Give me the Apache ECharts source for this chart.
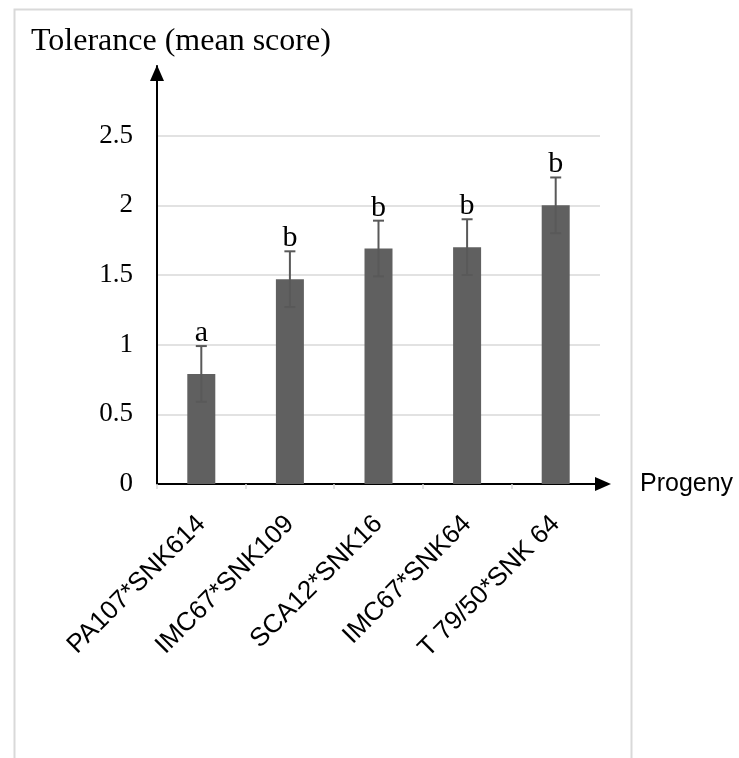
<!DOCTYPE html>
<html><head><meta charset="utf-8">
<script src="https://cdn.jsdelivr.net/npm/echarts@6/dist/echarts.min.js"></script>
<style>html,body{margin:0;padding:0;background:#fff}#c{width:739px;height:758px}</style>
</head><body><div id="c"></div>
<script>
const categories = ['PA107*SNK614', 'IMC67*SNK109', 'SCA12*SNK16', 'IMC67*SNK64', 'T 79/50*SNK 64'];
const meanScores = [0.79, 1.47, 1.69, 1.70, 2.00];
const stdErrors = [0.20, 0.20, 0.20, 0.20, 0.20];
const groupLetters = ['a', 'b', 'b', 'b', 'b'];
const yTicks = [0, 0.5, 1, 1.5, 2, 2.5, 3];

const chart = echarts.init(document.getElementById('c'), null, {renderer: 'canvas'});
const errData = categories.map((c, i) => [i, meanScores[i], stdErrors[i]]);

chart.setOption({
  animation: false,
  backgroundColor: '#fff',
  title: {
    text: 'Tolerance (mean score)', left: 31, top: 26, padding: 0,
    textStyle: {fontFamily: '"Liberation Serif", "Times New Roman", serif', fontSize: 32, fontWeight: 'normal', color: '#000'}
  },
  graphic: [{
    type: 'rect', left: 12, top: 7, silent: true,
    shape: {width: 617, height: 800},
    style: {fill: 'none', stroke: '#d9d9d9', lineWidth: 2}
  }],
  grid: {left: 157, right: 139, top: 66, bottom: 274, containLabel: false},
  xAxis: {
    type: 'category', data: categories,
    name: 'Progeny', nameLocation: 'end', nameGap: 40,
    nameTextStyle: {fontFamily: '"Liberation Sans", Arial, sans-serif', fontSize: 25, color: '#000', verticalAlign: 'middle', align: 'left'},
    axisLine: {show: true, lineStyle: {color: '#000', width: 2}, symbol: ['none', 'triangle'], symbolSize: [14, 16], symbolOffset: [0, 3]},
    axisTick: {show: true, length: 5, lineStyle: {color: '#d9d9d9', width: 1.5}},
    axisLabel: {interval: 0, rotate: 45, margin: 36, fontFamily: '"Liberation Sans", Arial, sans-serif', fontSize: 26, color: '#000'},
    splitLine: {show: false}
  },
  yAxis: {
    type: 'value', min: yTicks[0], max: yTicks[yTicks.length - 1], interval: 0.5,
    axisLine: {show: true, lineStyle: {color: '#000', width: 2}, symbol: ['none', 'triangle'], symbolSize: [14, 16], symbolOffset: [0, -7]},
    axisTick: {show: false},
    axisLabel: {
      margin: 24, fontFamily: '"Liberation Serif", "Times New Roman", serif', fontSize: 27, color: '#000',
      formatter: v => (v === yTicks[yTicks.length - 1] ? '' : String(v))
    },
    splitLine: {show: true, lineStyle: {width: 1.5, color: yTicks.map((v, i) => (i === 0 || i === yTicks.length - 1) ? 'rgba(0,0,0,0)' : '#d9d9d9')}}
  },
  series: [{
    type: 'bar', data: meanScores, barWidth: 28,
    itemStyle: {color: '#606060'}, z: 2
  }, {
    type: 'custom', data: errData, z: 3,
    renderItem: function (params, api) {
      const i = api.value(0), m = api.value(1), e = api.value(2);
      const top = api.coord([i, m + e]);
      const bot = api.coord([i, m - e]);
      const cw = 5.5;
      const st = {stroke: '#595959', lineWidth: 2};
      return {type: 'group', children: [
        {type: 'line', shape: {x1: top[0], y1: top[1], x2: bot[0], y2: bot[1]}, style: st},
        {type: 'line', shape: {x1: top[0] - cw, y1: top[1], x2: top[0] + cw, y2: top[1]}, style: st},
        {type: 'line', shape: {x1: bot[0] - cw, y1: bot[1], x2: bot[0] + cw, y2: bot[1]}, style: st},
        {type: 'text', style: {text: groupLetters[params.dataIndex], x: top[0], y: top[1] + 2, align: 'center', verticalAlign: 'bottom',
          font: '30px "Liberation Serif", "Times New Roman", serif', fill: '#000'}}
      ]};
    }
  }]
});
</script></body></html>
